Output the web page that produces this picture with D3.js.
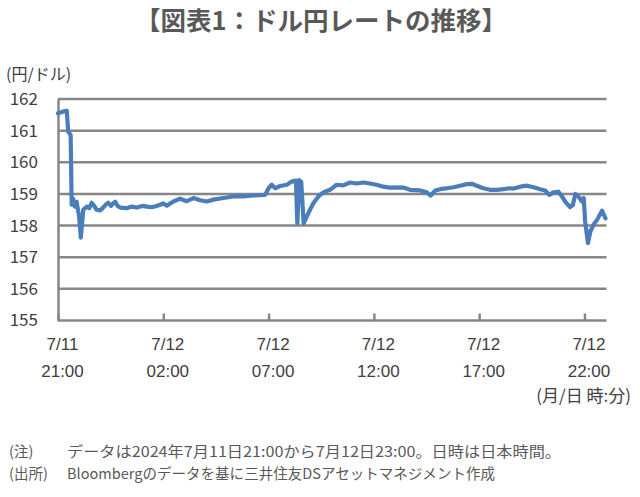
<!DOCTYPE html>
<html><head><meta charset="utf-8">
<script src="https://cdn.jsdelivr.net/npm/d3@7"></script>
<style>
html,body{margin:0;padding:0;background:#fff;}
svg{display:block;font-family:"Noto Sans CJK JP","Noto Sans",sans-serif;}
</style></head>
<body><svg id="c" width="640" height="497"></svg>
<script>
const titleText = "【図表1：ドル円レートの推移】";
const yUnit = "(円/ドル)";
const xUnit = "(月/日 時:分)";
const noteLabels = ["(注)", "(出所)"];
const noteTexts = ["データは2024年7月11日21:00から7月12日23:00。日時は日本時間。",
                   "Bloombergのデータを基に三井住友DSアセットマネジメント作成"];

const yTicks = [155, 156, 157, 158, 159, 160, 161, 162];
const tickTimes = ["2024-07-11 21:00","2024-07-12 02:00","2024-07-12 07:00","2024-07-12 12:00","2024-07-12 17:00","2024-07-12 22:00"];
const tickDates = ["7/11","7/12","7/12","7/12","7/12","7/12"];
const tickHours = ["21:00","02:00","07:00","12:00","17:00","22:00"];

const times = [
"2024-07-11 21:00","2024-07-11 21:14","2024-07-11 21:25","2024-07-11 21:29","2024-07-11 21:36","2024-07-11 21:39",
"2024-07-11 21:43","2024-07-11 21:48","2024-07-11 21:53","2024-07-11 22:00","2024-07-11 22:05","2024-07-11 22:08",
"2024-07-11 22:12","2024-07-11 22:22","2024-07-11 22:29","2024-07-11 22:36","2024-07-11 22:43","2024-07-11 22:50",
"2024-07-11 23:00","2024-07-11 23:08","2024-07-11 23:16","2024-07-11 23:23","2024-07-11 23:31","2024-07-11 23:37",
"2024-07-11 23:43","2024-07-11 23:50","2024-07-11 23:57",
"2024-07-12 00:16","2024-07-12 00:30","2024-07-12 00:44","2024-07-12 01:00","2024-07-12 01:13","2024-07-12 01:27",
"2024-07-12 01:41","2024-07-12 02:00","2024-07-12 02:10","2024-07-12 02:29","2024-07-12 02:48","2024-07-12 03:07",
"2024-07-12 03:26","2024-07-12 03:45","2024-07-12 04:04","2024-07-12 04:23","2024-07-12 04:51","2024-07-12 05:20",
"2024-07-12 05:48","2024-07-12 06:17","2024-07-12 06:50","2024-07-12 07:00","2024-07-12 07:09","2024-07-12 07:19",
"2024-07-12 07:33","2024-07-12 07:52","2024-07-12 08:06","2024-07-12 08:18","2024-07-12 08:22","2024-07-12 08:27",
"2024-07-12 08:33","2024-07-12 08:40","2024-07-12 08:49","2024-07-12 08:58","2024-07-12 09:08","2024-07-12 09:22",
"2024-07-12 09:36","2024-07-12 09:55","2024-07-12 10:14","2024-07-12 10:33","2024-07-12 10:52","2024-07-12 11:11",
"2024-07-12 11:30","2024-07-12 11:49","2024-07-12 12:08","2024-07-12 12:27","2024-07-12 12:46","2024-07-12 13:05",
"2024-07-12 13:24","2024-07-12 13:43","2024-07-12 14:12","2024-07-12 14:31","2024-07-12 14:42","2024-07-12 14:55",
"2024-07-12 15:09","2024-07-12 15:28","2024-07-12 15:47","2024-07-12 16:06","2024-07-12 16:25","2024-07-12 16:39",
"2024-07-12 16:53","2024-07-12 17:12","2024-07-12 17:31","2024-07-12 17:50","2024-07-12 18:09","2024-07-12 18:28",
"2024-07-12 18:38","2024-07-12 18:57","2024-07-12 19:16","2024-07-12 19:35","2024-07-12 19:54","2024-07-12 20:08",
"2024-07-12 20:20","2024-07-12 20:32","2024-07-12 20:46","2024-07-12 20:56","2024-07-12 21:05","2024-07-12 21:19",
"2024-07-12 21:27","2024-07-12 21:34","2024-07-12 21:43","2024-07-12 21:53","2024-07-12 21:58","2024-07-12 22:02",
"2024-07-12 22:10","2024-07-12 22:17","2024-07-12 22:26","2024-07-12 22:36","2024-07-12 22:50","2024-07-12 23:00"];
const values = [
161.55,161.60,161.63,160.97,160.86,158.66,
158.85,158.60,158.75,158.30,157.62,158.00,
158.50,158.60,158.55,158.72,158.62,158.50,
158.48,158.56,158.66,158.72,158.62,158.70,
158.75,158.62,158.57,
158.55,158.60,158.57,158.62,158.60,158.58,
158.62,158.70,158.63,158.76,158.85,158.77,
158.87,158.80,158.76,158.82,158.87,158.92,
158.92,158.95,158.97,159.18,159.29,159.18,
159.25,159.29,159.39,159.42,158.07,159.44,
159.38,158.07,158.29,158.50,158.71,158.92,
159.05,159.13,159.29,159.27,159.36,159.33,
159.36,159.33,159.29,159.23,159.20,159.21,
159.20,159.13,159.11,159.05,158.95,159.11,
159.15,159.18,159.21,159.26,159.31,159.32,
159.26,159.18,159.13,159.13,159.15,159.18,
159.17,159.23,159.26,159.21,159.15,159.11,
158.97,159.05,159.07,158.92,158.76,158.58,
158.65,159.00,158.92,158.76,158.87,158.13,
157.45,157.82,158.03,158.18,158.47,158.23];

const parse = d3.timeParse("%Y-%m-%d %H:%M");
const data = times.map((t, i) => ({t: parse(t), v: values[i]}));

const svg = d3.select("#c");
const mLeft = 58, mRight = 605.5, mTop = 99, mBottom = 320.5;
const gridColor = "#878787", textColor = "#404040";

const x = d3.scaleTime().domain([parse("2024-07-11 21:00"), parse("2024-07-12 23:00")]).range([mLeft, mRight]);
const y = d3.scaleLinear().domain([155, 162]).range([mBottom, mTop]);

// title
svg.append("text").attr("x", 321).attr("y", 30).attr("text-anchor", "middle")
  .attr("font-size", 25.5).attr("font-weight", "bold").attr("fill", "#595959").text(titleText);

// gridlines
svg.append("g").selectAll("line").data(yTicks.filter(d => d > 155)).join("line")
  .attr("x1", mLeft).attr("x2", mRight + 1).attr("y1", d => y(d)).attr("y2", d => y(d))
  .attr("stroke", gridColor).attr("stroke-width", 2.5);

// y labels
const yAxis = d3.axisLeft(y).tickValues(yTicks).tickFormat(d3.format("d")).tickSize(0).tickPadding(20);
const gy = svg.append("g").attr("transform", `translate(${mLeft},0)`).call(yAxis);
gy.select(".domain").attr("stroke", gridColor).attr("stroke-width", 2.5);
gy.selectAll("text").attr("font-size", 17).attr("fill", textColor)
  .attr("font-family", "'Noto Sans CJK JP',sans-serif");

svg.append("text").attr("x", 6).attr("y", 80).attr("font-size", 16).attr("fill", textColor).text(yUnit);

// x axis
const xAxis = d3.axisBottom(x).tickValues(tickTimes.map(parse)).tickSizeInner(-7).tickSizeOuter(0).tickFormat(() => "");
const gx = svg.append("g").attr("transform", `translate(0,${mBottom})`).call(xAxis);
gx.select(".domain").attr("stroke", gridColor).attr("stroke-width", 2.5).attr("d", `M${mLeft},0H${mRight + 1}`);
gx.selectAll(".tick line").attr("stroke", gridColor).attr("stroke-width", 2.5);
gx.selectAll(".tick").each(function(d, i) {
  const g = d3.select(this);
  g.append("text").attr("x", 4).attr("y", 29).attr("text-anchor", "middle").attr("font-size", 17)
    .attr("fill", textColor).text(tickDates[i]);
  g.append("text").attr("x", 4).attr("y", 56).attr("text-anchor", "middle").attr("font-size", 17)
    .attr("fill", textColor).text(tickHours[i]);
});
svg.append("text").attr("x", 631).attr("y", 402).attr("text-anchor", "end").attr("font-size", 17)
  .attr("fill", textColor).text(xUnit);

// line
const line = d3.line().x(d => x(d.t)).y(d => y(d.v));
svg.append("path").datum(data).attr("d", line).attr("fill", "none")
  .attr("stroke", "#4a7ebb").attr("stroke-width", 4.2).attr("stroke-linejoin", "round").attr("stroke-linecap", "round");

// notes
const noteWidths = [494, 428];
noteLabels.forEach((lab, i) => {
  svg.append("text").attr("x", 9).attr("y", 457 + i * 21.5).attr("font-size", 14.5).attr("fill", "#595959").text(lab);
  svg.append("text").attr("x", 67).attr("y", 457 + i * 21.5).attr("font-size", 14.5).attr("fill", "#595959")
    .attr("textLength", noteWidths[i]).attr("lengthAdjust", "spacingAndGlyphs").text(noteTexts[i]);
});
</script></body></html>
